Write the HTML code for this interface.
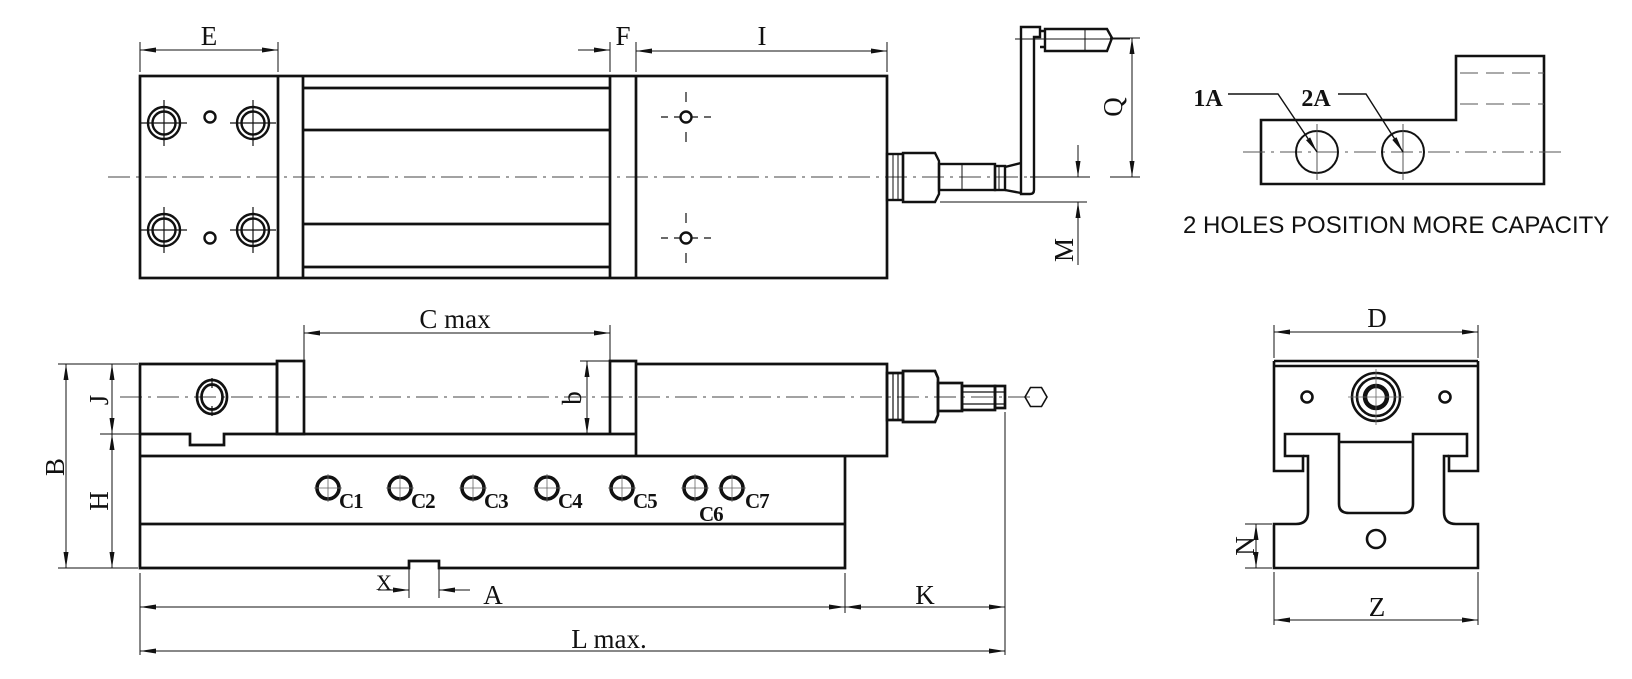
<!DOCTYPE html>
<html><head><meta charset="utf-8"><style>
html,body{margin:0;padding:0;background:#fff}
svg{display:block}
text{font-family:"Liberation Serif",serif;fill:#111}
</style></head><body>
<svg width="1632" height="679" viewBox="0 0 1632 679" xmlns="http://www.w3.org/2000/svg">
<defs>
<marker id="a" viewBox="0 0 16 6" refX="16" refY="3" markerWidth="16" markerHeight="6" markerUnits="userSpaceOnUse" orient="auto-start-reverse"><path d="M0,0.5 L16,3 L0,5.5 Z" fill="#111"/></marker>
</defs>
<g fill="none" stroke="#111" stroke-width="1" >
<!-- ===== TOP VIEW ===== -->
<line x1="108" y1="177" x2="1060" y2="177" stroke="#444" stroke-dasharray="22 6 3 6"/>
<g stroke-width="2.7">
<rect x="140" y="76" width="747" height="202"/>
<line x1="278" y1="76" x2="278" y2="278"/><line x1="303" y1="76" x2="303" y2="278"/>
<line x1="610" y1="76" x2="610" y2="278"/><line x1="636" y1="76" x2="636" y2="278"/>
<line x1="303" y1="88" x2="610" y2="88"/><line x1="303" y1="130" x2="610" y2="130"/>
<line x1="303" y1="224" x2="610" y2="224"/><line x1="303" y1="267" x2="610" y2="267"/>
</g>
<g stroke-width="2.4">
<circle cx="164" cy="123" r="16"/><circle cx="164" cy="123" r="11.5"/>
<circle cx="253" cy="123" r="16"/><circle cx="253" cy="123" r="11.5"/>
<circle cx="164" cy="230" r="16"/><circle cx="164" cy="230" r="11.5"/>
<circle cx="253" cy="230" r="16"/><circle cx="253" cy="230" r="11.5"/>
<circle cx="210" cy="117" r="5.5"/><circle cx="210" cy="238" r="5.5"/>
<circle cx="686" cy="117" r="5.5"/><circle cx="686" cy="238" r="5.5"/>
</g>
<g stroke-width="1.2">
<path d="M141 123h46M164 100v46M230 123h46M253 100v46M141 230h46M164 207v46M230 230h46M253 207v46"/>
<path d="M661 117h7M674 117h6M692 117h6M704 117h7M686 92v10M686 132v10M661 238h7M674 238h6M692 238h6M704 238h7M686 213v10M686 253v10"/>
</g>
<!-- dims top -->
<path d="M140 42v30M278 42v30M610 42v30M636 42v30M887 42v30"/>
<line x1="140" y1="50" x2="278" y2="50" marker-start="url(#a)" marker-end="url(#a)"/>
<line x1="578" y1="50" x2="610" y2="50" marker-end="url(#a)"/>
<line x1="636" y1="51" x2="887" y2="51" marker-start="url(#a)" marker-end="url(#a)"/>
<!-- screw + crank -->
<g stroke-width="2.4">
<rect x="887" y="154" width="16" height="46"/>
<path d="M903 153h32l4 8v33l-4 8h-32z"/>
<rect x="939" y="164" width="56" height="26"/>
<rect x="995" y="166" width="10" height="24"/>
<path d="M1005 167l16-4M1005 190l16 3"/>
<path d="M1021 27h19v10h-6v153q0 4-4 4h-9z"/>
<path d="M1040 31h5v16h-5M1045 29h62l5 9l-5 13h-62z"/>
</g>
<path d="M893 154v46M898 154v46M962 164v26M999 166v24M1085 29v22M1015 39h115"/>
<path d="M940 202h147M1030 177h60"/>
<line x1="1078" y1="145" x2="1078" y2="177" marker-end="url(#a)"/>
<line x1="1078" y1="265" x2="1078" y2="202" marker-end="url(#a)"/>
<line x1="1132" y1="108" x2="1132" y2="38" marker-end="url(#a)"/>
<line x1="1132" y1="108" x2="1132" y2="177" marker-end="url(#a)"/>
<path d="M1110 38h30M1110 177h30"/>

<!-- ===== SMALL RIGHT ===== -->
<path d="M1261 120H1456V56H1544V184H1261Z" stroke-width="2.6"/>
<path d="M1460 73h84M1460 104h84" stroke="#555" stroke-dasharray="18 8"/>
<line x1="1243" y1="152" x2="1565" y2="152" stroke="#555" stroke-dasharray="22 6 3 6"/>
<circle cx="1317" cy="152" r="21" stroke-width="2"/><circle cx="1403" cy="152" r="21" stroke-width="2"/>
<path d="M1317 124v56M1403 124v56" stroke="#555"/>
<polyline points="1228,94 1278,94 1317,152" stroke-width="1.4" marker-end="url(#a)"/>
<polyline points="1338,94 1366,94 1403,152" stroke-width="1.4" marker-end="url(#a)"/>

<!-- ===== SIDE VIEW ===== -->
<line x1="120" y1="397" x2="1030" y2="397" stroke="#444" stroke-dasharray="22 6 3 6"/>
<g stroke-width="2.7">
<path d="M277 434V364H140V568H409V561H439V568H845V456"/>
<path d="M140 434H190V445H224V434H636"/>
<path d="M140 456H887V364H636"/>
<rect x="277" y="361" width="27" height="73"/>
<path d="M610 434V361H636V456"/>
<line x1="140" y1="524" x2="845" y2="524"/>
<rect x="887" y="373" width="16" height="47"/>
<path d="M903 371h32l3 7v37l-3 7h-32z"/>
<rect x="938" y="383" width="24" height="28"/>
<rect x="962" y="386" width="33" height="24"/>
<rect x="995" y="386" width="10" height="22"/>
<ellipse cx="212" cy="397" rx="15" ry="17"/><ellipse cx="212" cy="397" rx="10.5" ry="12.5"/>
</g>
<path d="M893 373v47M898 373v47M962 392h43M962 404h43M212 378v10M212 406v10" stroke-width="1.2"/>
<polygon points="1025,397 1030.5,387.5 1041.5,387.5 1047,397 1041.5,406.5 1030.5,406.5" stroke-width="1.6"/>
<g stroke-width="3.6">
<circle cx="328" cy="488" r="11"/><circle cx="400" cy="488" r="11"/><circle cx="473" cy="488" r="11"/>
<circle cx="547" cy="488" r="11"/><circle cx="622" cy="488" r="11"/><circle cx="695" cy="488" r="11"/><circle cx="732" cy="488" r="11"/>
</g>
<g stroke-width="0.8" stroke="#666">
<path d="M314 488h28M328 474v28M386 488h28M400 474v28M459 488h28M473 474v28M533 488h28M547 474v28M608 488h28M622 474v28M681 488h28M695 474v28M718 488h28M732 474v28"/>
</g>
<!-- side dims -->
<path d="M304 325v36M610 325v36"/>
<line x1="304" y1="333" x2="610" y2="333" marker-start="url(#a)" marker-end="url(#a)"/>
<path d="M580 361h30"/>
<line x1="587" y1="361" x2="587" y2="434" marker-start="url(#a)" marker-end="url(#a)"/>
<path d="M58 364h80M100 434h40M58 568h80"/>
<line x1="66" y1="364" x2="66" y2="568" marker-start="url(#a)" marker-end="url(#a)"/>
<line x1="112" y1="364" x2="112" y2="434" marker-start="url(#a)" marker-end="url(#a)"/>
<line x1="112" y1="434" x2="112" y2="568" marker-start="url(#a)" marker-end="url(#a)"/>
<path d="M140 573v82M845 573v40M1005 412v243M409 562v36M439 562v36"/>
<line x1="140" y1="607" x2="845" y2="607" marker-start="url(#a)" marker-end="url(#a)"/>
<line x1="845" y1="607" x2="1005" y2="607" marker-start="url(#a)" marker-end="url(#a)"/>
<line x1="140" y1="651" x2="1005" y2="651" marker-start="url(#a)" marker-end="url(#a)"/>
<line x1="378" y1="590" x2="409" y2="590" marker-end="url(#a)"/>
<line x1="470" y1="590" x2="439" y2="590" marker-end="url(#a)"/>

<!-- ===== END VIEW ===== -->
<g stroke-width="2.6">
<path d="M1274 361H1478M1274 366H1478"/>
<path d="M1274 361V471H1303V456H1285V434H1339V504Q1339 513 1349 513H1403Q1413 513 1413 504V434H1467V456H1449V471H1478V361"/>
<path d="M1339 442H1413"/>
<path d="M1303 456H1308V512Q1308 524 1296 524H1274V568H1478V524H1456Q1444 524 1444 512V456H1449"/>
<circle cx="1307" cy="397" r="5.5"/><circle cx="1445" cy="397" r="5.5"/>
<circle cx="1376" cy="397" r="24"/><circle cx="1376" cy="397" r="19"/>
<circle cx="1376" cy="397" r="11" stroke-width="4.5"/>
<circle cx="1376" cy="539" r="9"/>
</g>
<path d="M1348 397h56M1376 369v56" stroke-width="0.8" stroke="#666"/>
<path d="M1274 325v33M1478 325v33M1274 572v53M1478 572v53M1245 524h27M1245 568h27"/>
<line x1="1274" y1="332" x2="1478" y2="332" marker-start="url(#a)" marker-end="url(#a)"/>
<line x1="1274" y1="620" x2="1478" y2="620" marker-start="url(#a)" marker-end="url(#a)"/>
<line x1="1256" y1="524" x2="1256" y2="568" marker-start="url(#a)" marker-end="url(#a)"/>
</g>

<!-- ===== TEXT ===== -->
<g font-size="27" text-anchor="middle">
<text x="209" y="45">E</text>
<text x="623" y="45">F</text>
<text x="762" y="45">I</text>
<text x="455" y="328">C max</text>
<text x="493" y="604">A</text>
<text x="925" y="604">K</text>
<text x="609" y="648">L max.</text>
<text x="384" y="590" font-size="22">X</text>
<text x="1377" y="327">D</text>
<text x="1377" y="616">Z</text>
<text transform="translate(1122,107) rotate(-90)">Q</text>
<text transform="translate(1073,250) rotate(-90)">M</text>
<text transform="translate(64,467) rotate(-90)">B</text>
<text transform="translate(108,400) rotate(-90)">J</text>
<text transform="translate(108,501) rotate(-90)">H</text>
<text transform="translate(581,398) rotate(-90)">b</text>
<text transform="translate(1254,546) rotate(-90)">N</text>
<text x="1208" y="106" font-size="24" font-weight="bold">1A</text>
<text x="1316" y="106" font-size="24" font-weight="bold">2A</text>
</g>
<g font-size="21" font-weight="bold" style="letter-spacing:-1px">
<text x="339" y="508">C1</text><text x="411" y="508">C2</text><text x="484" y="508">C3</text>
<text x="558" y="508">C4</text><text x="633" y="508">C5</text><text x="699" y="521">C6</text><text x="745" y="508">C7</text>
</g>
<text x="1183" y="233" font-size="24" style="font-family:'Liberation Sans',sans-serif">2 HOLES POSITION MORE CAPACITY</text>
</svg>
</body></html>
